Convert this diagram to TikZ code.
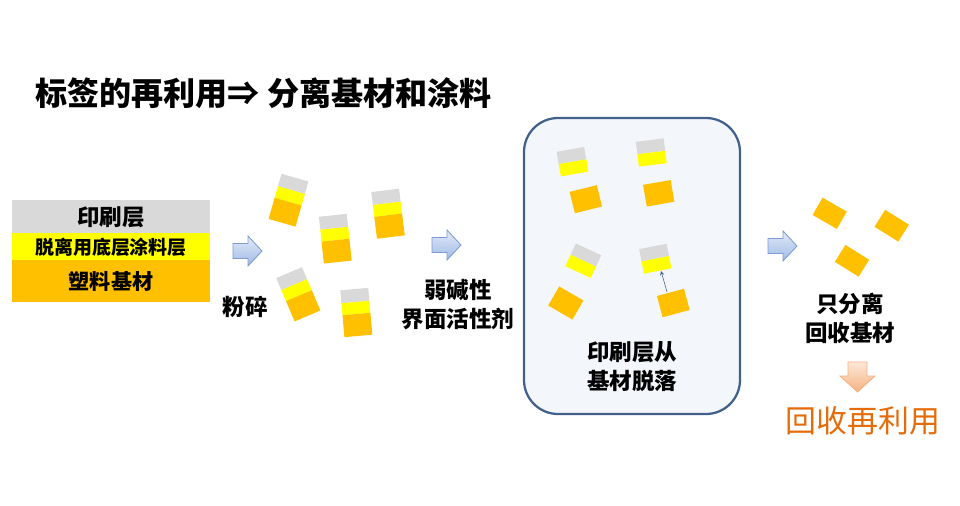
\documentclass[tikz,border=0pt]{standalone}
\usepackage{fontspec}
\setmainfont{Noto Sans CJK SC}
\usepackage{tikz}
\definecolor{lgray}{RGB}{217,217,217}
\definecolor{lyellow}{RGB}{255,255,0}
\definecolor{lorange}{RGB}{255,192,0}
\definecolor{boxfill}{RGB}{243,246,251}
\definecolor{boxline}{RGB}{65,96,138}
\definecolor{arrline}{RGB}{125,155,209}
\definecolor{arrtop}{RGB}{225,234,248}
\definecolor{arrbot}{RGB}{160,186,230}
\definecolor{downtop}{RGB}{252,232,218}
\definecolor{downbot}{RGB}{245,178,130}
\definecolor{recycle}{RGB}{228,108,10}

\begin{document}
\begin{tikzpicture}[x=0.025cm, y=-0.025cm, >=stealth,
    titletext/.style={font=\bfseries\fontsize{22.8}{28}\selectfont, inner sep=0pt},
    captext/.style={font=\bfseries\fontsize{16}{20.6}\selectfont, align=center, inner sep=0pt},
    blockarrow/.style={draw=arrline, line width=0.6pt, top color=arrtop, bottom color=arrbot}]
    \useasboundingbox (0,0) rectangle (960,506);

    % Title
    \node[titletext, anchor=west] (title) at (35,93) {标签的再利用⇒ 分离基材和涂料};

    % Layer stack
    \fill[lgray] (12,200) rectangle (210,233);
    \fill[lyellow] (12,233) rectangle (210,260);
    \fill[lorange] (12,260) rectangle (210,302);
    \node[captext] (ink) at (111,217) {印刷层};
    \node[captext, font=\bfseries\fontsize{13.5}{16}\selectfont] (primer) at (111,247) {脱离用底层涂料层};
    \node[captext, font=\bfseries\fontsize{15}{18}\selectfont] (base) at (111,281) {塑料基材};

    % Block arrows
    \foreach \cx/\cy in {247/251, 446/245, 782/246} {
        \draw[blockarrow] (\cx-14,\cy-7.5) -- (\cx+1,\cy-7.5) -- (\cx+1,\cy-15)
            -- (\cx+15,\cy) -- (\cx+1,\cy+15) -- (\cx+1,\cy+7.5) -- (\cx-14,\cy+7.5) -- cycle;
    }
    \draw[draw=downbot, line width=0.6pt, top color=downtop, bottom color=downbot]
        (848,362) -- (867,362) -- (867,376) -- (875,376) -- (857.5,392) -- (840,376) -- (848,376) -- cycle;

    % Crushed pieces
    \foreach \cx/\cy/\ang in {288.5/200.2/-16, 335.3/238.7/6, 388/213.7/7, 298.3/294.3/23, 356.3/312.5/5} {
        \begin{scope}[shift={(\cx,\cy)}, rotate=\ang]
            \fill[lgray] (-14,-23.5) rectangle (14,-10.5);
            \fill[lyellow] (-14,-10.5) rectangle (14,1.5);
            \fill[lorange] (-14,1.5) rectangle (14,23.5);
        \end{scope}
    }
    \node[captext] (crush) at (245,307) {粉碎};
    \node[captext] (agent) at (458,305) {弱碱性\\界面活性剂};

    % Washing tank
    \draw[boxline, line width=1.6pt, fill=boxfill, rounded corners=0.85cm] (524,118) rectangle (740,414);
    \foreach \cx/\cy/\ang in {572.5/161.7/10, 651.3/152.5/7, 583.3/260.7/-25, 655.3/258.7/11} {
        \begin{scope}[shift={(\cx,\cy)}, rotate=\ang]
            \fill[lgray] (-14,-12.5) rectangle (14,0);
            \fill[lyellow] (-14,0) rectangle (14,12.5);
        \end{scope}
    }
    \foreach \cx/\cy/\ang in {585.8/199.2/14, 658.7/193.3/10, 565.8/303/-30, 673.3/303/15} {
        \fill[lorange, shift={(\cx,\cy)}, rotate=\ang] (-14,-11) rectangle (14,11);
    }
    \coordinate (sub) at (667,292);
    \coordinate (print) at (661,271);
    \draw[->, boxline, thin] (sub) -- (print);
    \node[captext] (peel) at (632,367) {印刷层从\\基材脱落};

    % Separated base
    \foreach \cx/\cy/\ang in {829.7/213.3/-30, 891.7/225.7/-32, 852/260.8/-32} {
        \fill[lorange, shift={(\cx,\cy)}, rotate=\ang] (-14,-10) rectangle (14,10);
    }
    \node[captext] (sep) at (850,318) {只分离\\回收基材};
    \node[font=\fontsize{22}{26}\selectfont, text=recycle, inner sep=0pt] (reuse) at (863,421) {回收再利用};
\end{tikzpicture}
\end{document}
